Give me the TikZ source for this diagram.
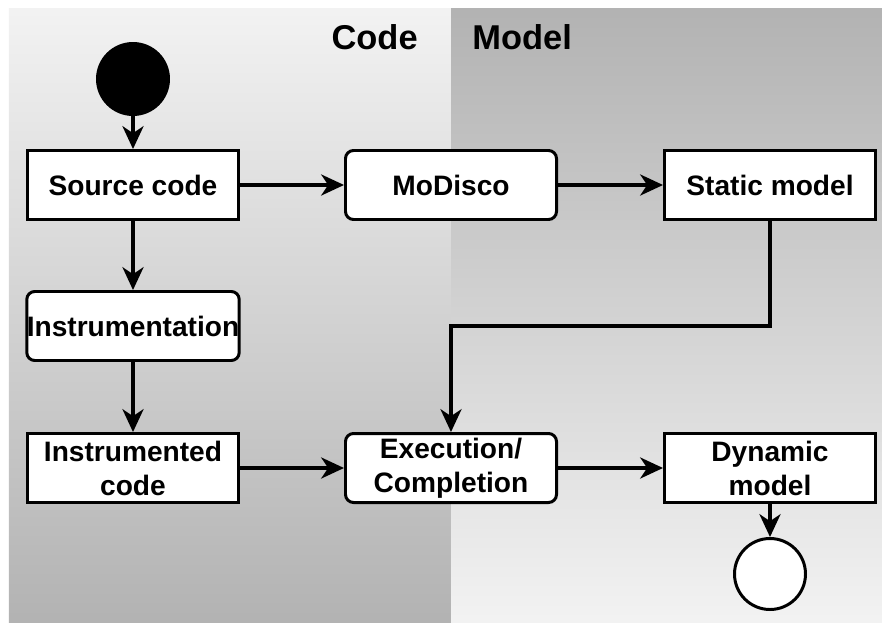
\documentclass[tikz,border=0pt]{standalone}
\usepackage{fontspec}
\setmainfont{Liberation Sans}
\usepackage{tikz}
\usetikzlibrary{arrows.meta,calc,positioning}
\tikzset{>={Stealth[length=13pt,width=12pt,inset=4pt]}}
\tikzset{
  actbox/.style={draw, line width=1.7pt, fill=white, inner sep=0pt,
    minimum width=4.22cm, minimum height=1.38cm, align=center,
    font=\fontsize{16}{19.3}\selectfont\bfseries},
  actround/.style={actbox, rounded corners=0.16cm},
  startdot/.style={circle, draw, line width=1.7pt, fill=black, minimum size=1.42cm, inner sep=0pt},
  enddot/.style={circle, draw, line width=1.7pt, fill=white, minimum size=1.42cm, inner sep=0pt},
  lanetitle/.style={inner sep=0pt, font=\fontsize{19.6}{22}\selectfont\bfseries},
  flow/.style={->, line width=1.9pt}
}

\begin{document}
\begin{tikzpicture}[scale=1]
          \useasboundingbox (0,0) rectangle (17.64,-12.44);
          % swimlanes
          \shade[top color=gray!10, bottom color=gray!60] (0.18,-0.16) rectangle (9.02,-12.44);
          \shade[top color=gray!60, bottom color=gray!10] (9.02,-0.16) rectangle (17.64,-12.44);
          \node[lanetitle, anchor=east] at (8.36,-0.74) (codelane) {Code};
          \node[lanetitle, anchor=west] at (9.44,-0.74) (modellane) {Model};

          \node[startdot] at (2.66,-1.58) (start) {};
          \node[actbox] at (2.66,-3.7) (source) {Source code};
          \node[actround] at (9.02,-3.7) (modisco) {MoDisco};
          \node[actbox] at (15.4,-3.7) (static) {Static model};
          \node[actround] at (2.66,-6.52) (instr) {Instrumentation};
          \node[actbox] at (2.66,-9.36) (instrcode) {Instrumented\\code};
          \node[actround] at (9.02,-9.36) (exec) {Execution/\\Completion};
          \node[actbox] at (15.4,-9.36) (dynamic) {Dynamic\\model};
          \node[enddot] at (15.4,-11.48) (end) {};

          \draw[flow] (start) to (source);
          \draw[flow] (source) to (modisco);
          \draw[flow] (modisco) to (static);
          \draw[flow] (source) to (instr);
          \draw[flow] (instr) to (instrcode);
          \draw[flow] (instrcode) to (exec);
          \draw[flow] (exec) to (dynamic);
          \draw[flow] (dynamic) to (end);
          % static model feeds the execution
          \draw[flow] (static) |- (exec.north |- instr) -- (exec);
        \end{tikzpicture}
\end{document}
